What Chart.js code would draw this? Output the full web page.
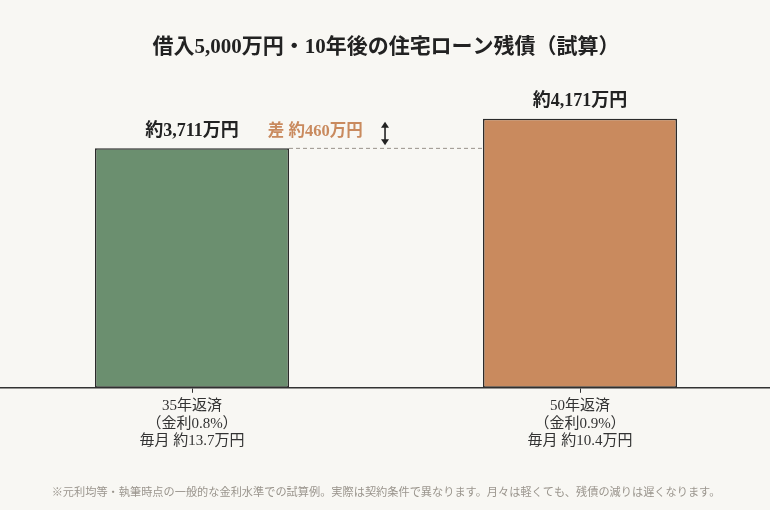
<!DOCTYPE html>
<html lang="ja">
<head>
<meta charset="utf-8">
<title>住宅ローン残債</title>
<script src="https://cdn.jsdelivr.net/npm/chart.js@4/dist/chart.umd.min.js"></script>
<style>
  html, body { margin: 0; padding: 0; background: #f8f7f3; }
  .wrap { width: 770px; height: 510px; overflow: hidden; position: relative; }
  #chart { position: absolute; left: -2px; top: 0; }
</style>
</head>
<body>
<div class="wrap"><canvas id="chart" width="776" height="510"></canvas></div>
<script>
const categories = [
    ['35年返済', '（金利0.8%）', '毎月 約13.7万円'],
    ['50年返済', '（金利0.9%）', '毎月 約10.4万円']
];
const balances = [3711, 4171];           // 10年後の残債（万円）
const valueLabels = ['約3,711万円', '約4,171万円'];
const diffLabel = '差 約460万円';
const yMax = 5000;

const FONT = "'Liberation Serif', 'Noto Sans CJK JP', serif";

// 棒の上の数値と差の注記
const annotatePlugin = {
    id: 'annotate',
    afterDatasetsDraw(chart) {
        const ctx = chart.ctx;
        const meta = chart.getDatasetMeta(0);
        const y = chart.scales.y;
        ctx.save();
        ctx.textAlign = 'center';
        ctx.textBaseline = 'middle';
        ctx.fillStyle = '#222';
        ctx.font = 'bold 18px ' + FONT;
        meta.data.forEach((bar, i) => {
            ctx.fillText(valueLabels[i], bar.x, y.getPixelForValue(balances[i]) - 17);
        });

        const b0 = meta.data[0], b1 = meta.data[1];
        const yLow = y.getPixelForValue(balances[0]);
        const yHigh = y.getPixelForValue(balances[1]);
        const left = b0.x + b0.width / 2;
        const right = b1.x - b1.width / 2;

        // 破線
        ctx.strokeStyle = '#9a938a';
        ctx.lineWidth = 1;
        ctx.setLineDash([4, 3]);
        ctx.beginPath();
        ctx.moveTo(left, yLow);
        ctx.lineTo(right, yLow);
        ctx.stroke();
        ctx.setLineDash([]);

        // 差のラベル
        const midY = (yLow + yHigh) / 2;
        ctx.fillStyle = '#c98a5e';
        ctx.font = 'bold 16.5px ' + FONT;
        ctx.fillText(diffLabel, left + (right - left) * 0.135, midY - 2);

        // ↕ 矢印
        const ax = left + (right - left) * 0.495;
        const top = yHigh + 3, bot = yLow - 3;
        ctx.strokeStyle = '#222';
        ctx.fillStyle = '#222';
        ctx.lineWidth = 1.6;
        ctx.beginPath();
        ctx.moveTo(ax, top + 4);
        ctx.lineTo(ax, bot - 4);
        ctx.stroke();
        ctx.beginPath();
        ctx.moveTo(ax, top); ctx.lineTo(ax - 4, top + 6); ctx.lineTo(ax + 4, top + 6); ctx.closePath();
        ctx.fill();
        ctx.beginPath();
        ctx.moveTo(ax, bot); ctx.lineTo(ax - 4, bot - 6); ctx.lineTo(ax + 4, bot - 6); ctx.closePath();
        ctx.fill();
        ctx.restore();
    }
};

document.addEventListener('DOMContentLoaded', function() {
    const chartCanvas = document.querySelector('#chart');
    if (!chartCanvas) return;
    try {
        new Chart(chartCanvas.getContext('2d'), {
            type: 'bar',
            data: {
                labels: categories,
                datasets: [{
                    data: balances,
                    backgroundColor: ['#6b8f6f', '#c98a5e'],
                    borderColor: '#2b2b2b',
                    borderWidth: 1.5,
                    borderSkipped: false,
                    categoryPercentage: 1,
                    barPercentage: 0.5
                }]
            },
            options: {
                responsive: false,
                animation: false,
                layout: { padding: { left: 0, right: 0, top: 0, bottom: 6 } },
                plugins: {
                    legend: { display: false },
                    tooltip: { enabled: false },
                    title: {
                        display: true,
                        text: '借入5,000万円・10年後の住宅ローン残債（試算）',
                        color: '#222',
                        font: { family: FONT, size: 21, weight: 'bold' },
                        padding: { top: 35, bottom: 5 }
                    },
                    subtitle: {
                        display: true,
                        position: 'bottom',
                        text: '※元利均等・執筆時点の一般的な金利水準での試算例。実際は契約条件で異なります。月々は軽くても、残債の減りは遅くなります。',
                        color: '#9a958d',
                        font: { family: FONT, size: 11.2 },
                        padding: { top: 32, bottom: 4 }
                    }
                },
                scales: {
                    x: {
                        grid: {
                            display: true,
                            drawOnChartArea: false,
                            drawTicks: true,
                            tickLength: 5,
                            offset: false,
                            color: '#333'
                        },
                        border: { display: true, color: '#333', width: 1.5 },
                        ticks: {
                            color: '#333',
                            padding: 5,
                            font: { family: FONT, size: 15, lineHeight: 1.15 }
                        }
                    },
                    y: {
                        display: false,
                        min: 0,
                        max: yMax
                    }
                }
            },
            plugins: [annotatePlugin]
        });
    } catch (error) {
        console.error('chart error:', error);
    }
});
</script>
</body>
</html>
